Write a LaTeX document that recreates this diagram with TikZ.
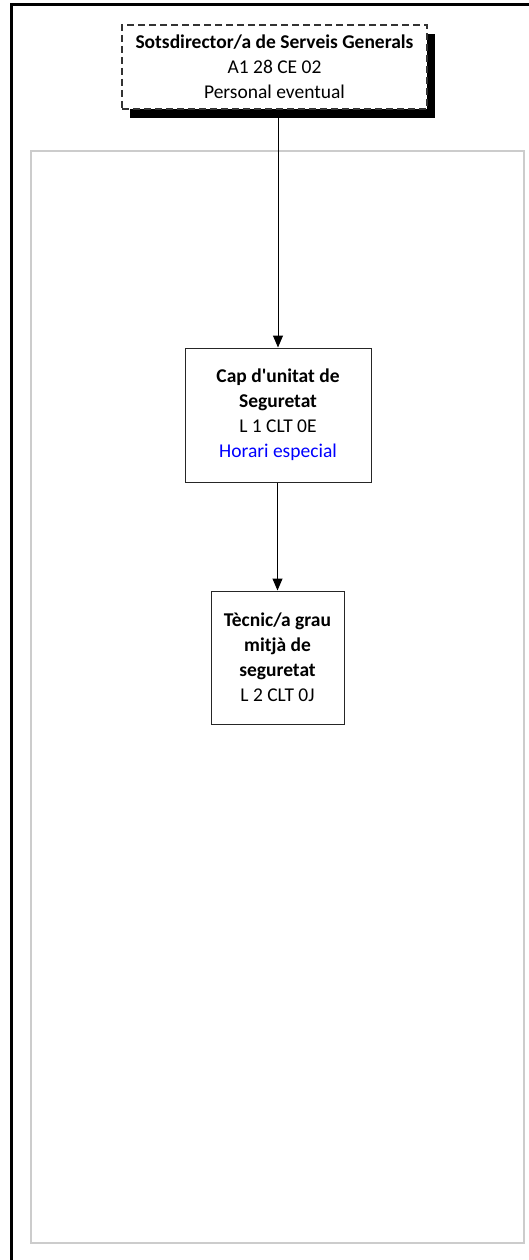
\documentclass[tikz,border=0pt]{standalone}
\usepackage{fontspec}
\setmainfont{Carlito}[Ligatures=TeXOff]
\usetikzlibrary{arrows.meta,shadows}
\tikzset{
  orgbox/.style={draw=black!85, line width=1pt, fill=white, align=center, inner sep=0pt,
    font=\fontsize{19.5}{25}\selectfont},
  conn/.style={draw=black, line width=1pt, -{Triangle[length=12pt,width=10pt]}},
  topbox/.style={orgbox, draw=black!80, line width=1.2pt, dash pattern=on 7pt off 4pt,
    drop shadow={shadow xshift=8pt, shadow yshift=-9pt, fill=black, opacity=1}},
}
\begin{document}
\begin{tikzpicture}[x=1pt,y=-1pt]
\useasboundingbox (0,0) rectangle (529,1260);
% outer frame
\draw[line width=3pt, black] (11.5,1260) -- (11.5,4.5) -- (529,4.5);
% inner gray panel
\draw[line width=1.2pt, black!20] (31,151) rectangle (524,1243);
% nodes
\node[topbox, minimum width=305pt, minimum height=84pt] (sd) at (274.5,67)
  {\textbf{Sotsdirector/a de Serveis Generals}\\A1 28 CE 02\\Personal eventual};
\node[orgbox, minimum width=186pt, minimum height=134pt] (cap) at (278,415)
  {\textbf{Cap d'unitat de}\\\textbf{Seguretat}\\L 1 CLT 0E\\\textcolor{blue}{Horari especial}};
\node[orgbox, minimum width=133pt, minimum height=133pt] (tec) at (277.5,657.5)
  {\textbf{Tècnic/a grau}\\\textbf{mitjà de}\\\textbf{seguretat}\\L 2 CLT 0J};
% connectors
\draw[conn] (sd.south -| cap.north) -- (cap.north);
\draw[conn] (cap.south -| tec.north) -- (tec.north);
\end{tikzpicture}
\end{document}
